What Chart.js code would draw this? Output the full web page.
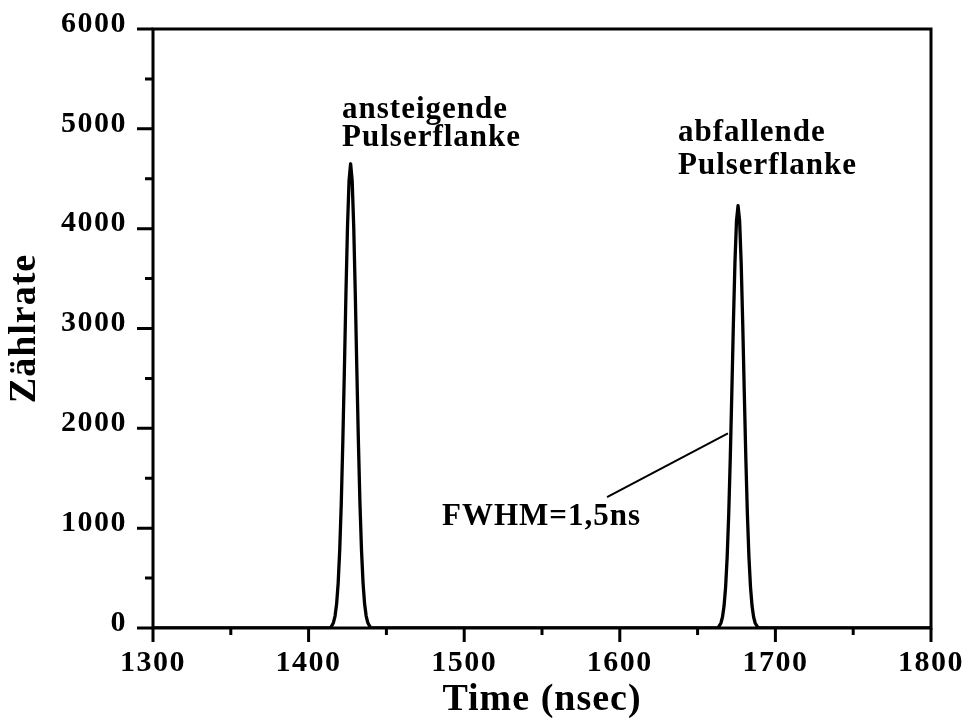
<!DOCTYPE html>
<html><head><meta charset="utf-8">
<script src="https://cdn.jsdelivr.net/npm/chart.js@4.4.1/dist/chart.umd.min.js"></script>
<style>html,body{margin:0;padding:0;background:#fff}#wrap{width:967px;height:720px}</style>
</head><body><div id="wrap"><canvas id="c" width="967" height="720"></canvas></div>
<script>
// ---- data ----
const times = [1300,
  1414,1415,1416,1417,1418,1419,1420,1421,1422,1423,1424,1425,1426,1427,1428,1429,1430,1431,1432,1433,1434,1435,1436,1437,1438,1439,1440,
  1663,1664,1665,1666,1667,1668,1669,1670,1671,1672,1673,1674,1675,1676,1677,1678,1679,1680,1681,1682,1683,1684,1685,1686,1687,1688,1689,
  1800];
const counts = [0,
  0,24,56,120,240,450,780,1250,1870,2590,3350,4020,4480,4650,4480,4020,3350,2590,1870,1250,780,450,240,120,56,24,0,
  0,22,50,110,220,410,710,1140,1700,2360,3050,3660,4080,4230,4080,3660,3050,2360,1700,1140,710,410,220,110,50,22,0,
  0];
const xTickValues = [1300,1400,1500,1600,1700,1800];
const xMinorTicks = [1350,1450,1550,1650,1750];
const yTickValues = [0,1000,2000,3000,4000,5000,6000];
const yMinorTicks = [500,1500,2500,3500,4500,5500];
const xTitle = 'Time (nsec)';
const yTitle = 'Zählrate';
const peakLabel1 = ['ansteigende','Pulserflanke'];
const peakLabel2 = ['abfallende','Pulserflanke'];
const fwhmLabel = 'FWHM=1,5ns';

// ---- annotation placement (data units) ----
const annot = {
  label1: {x:1421.5, y:[5110,4830]},
  label2: {x:1637.4, y:[4880,4550]},
  fwhm:   {x:1485.7, y:1030},
  pointer:{x1:1591.8, y1:1310, x2:1669.5, y2:1950}
};

const FAM = '"Liberation Serif","Times New Roman",serif';

const axisPlugin = {
  id: 'axisBox',
  beforeDraw(chart){ chart.ctx.letterSpacing = '1px'; },
  afterDatasetsDraw(chart){ chart.ctx.letterSpacing = '1.5px'; },
  afterDraw(chart){
    const ctx = chart.ctx, a = chart.chartArea;
    const xs = chart.scales.x, ys = chart.scales.y;
    ctx.save();
    ctx.letterSpacing = '0px';
    ctx.strokeStyle = '#000';
    ctx.lineWidth = 3;
    ctx.lineCap = 'square';
    ctx.strokeRect(a.left, a.top, a.right - a.left, a.bottom - a.top);
    ctx.beginPath();
    xTickValues.forEach(v => { const p = xs.getPixelForValue(v); ctx.moveTo(p, a.bottom); ctx.lineTo(p, a.bottom + 14); });
    xMinorTicks.forEach(v => { const p = xs.getPixelForValue(v); ctx.moveTo(p, a.bottom); ctx.lineTo(p, a.bottom + 7); });
    yTickValues.forEach(v => { const p = ys.getPixelForValue(v); ctx.moveTo(a.left, p); ctx.lineTo(a.left - 16, p); });
    yMinorTicks.forEach(v => { const p = ys.getPixelForValue(v); ctx.moveTo(a.left, p); ctx.lineTo(a.left - 8, p); });
    ctx.lineCap = 'butt';
    ctx.stroke();
    // pointer line
    ctx.lineWidth = 2;
    ctx.beginPath();
    ctx.moveTo(xs.getPixelForValue(annot.pointer.x1), ys.getPixelForValue(annot.pointer.y1));
    ctx.lineTo(xs.getPixelForValue(annot.pointer.x2), ys.getPixelForValue(annot.pointer.y2));
    ctx.stroke();
    // labels
    ctx.letterSpacing = '1px';
    ctx.fillStyle = '#000';
    ctx.font = 'bold 31px ' + FAM;
    ctx.textAlign = 'left';
    ctx.textBaseline = 'alphabetic';
    peakLabel1.forEach((t,i) => ctx.fillText(t, xs.getPixelForValue(annot.label1.x), ys.getPixelForValue(annot.label1.y[i])));
    peakLabel2.forEach((t,i) => ctx.fillText(t, xs.getPixelForValue(annot.label2.x), ys.getPixelForValue(annot.label2.y[i])));
    ctx.fillText(fwhmLabel, xs.getPixelForValue(annot.fwhm.x), ys.getPixelForValue(annot.fwhm.y));
    ctx.restore();
  }
};

const zeroPad = s => { s.paddingTop = 0; s.paddingBottom = 0; s.paddingLeft = 0; s.paddingRight = 0; };

new Chart(document.getElementById('c'), {
  type: 'line',
  data: {
    datasets: [{
      data: times.map((t,i) => ({x:t, y:counts[i]})),
      borderColor: '#000',
      borderWidth: 3.3,
      borderJoinStyle: 'round',
      borderCapStyle: 'round',
      pointRadius: 0,
      fill: false,
      tension: 0
    }]
  },
  options: {
    responsive: false,
    animation: false,
    devicePixelRatio: 1,
    layout: { padding: {top:29, right:36, bottom:0, left:0} },
    plugins: { legend: {display:false}, tooltip: {enabled:false} },
    scales: {
      x: {
        type: 'linear', min: 1300, max: 1800,
        afterBuildTicks: s => { s.ticks = xTickValues.map(v => ({value:v})); },
        afterFit: s => { s.height = 92; zeroPad(s); },
        grid: {display:false, drawTicks:false},
        border: {display:false},
        ticks: {color:'#000', padding:17, maxRotation:0, autoSkip:false, z:1,
                callback: v => String(v),
                font:{family:FAM, size:30, weight:'bold', lineHeight:1.2}},
        title: {display:true, text:xTitle, color:'#000', padding:{top:0,bottom:1},
                font:{family:FAM, size:38, weight:'bold', lineHeight:1}}
      },
      y: {
        type: 'linear', min: 0, max: 6000,
        afterBuildTicks: s => { s.ticks = yTickValues.map(v => ({value:v})); },
        afterFit: s => { s.width = 153; zeroPad(s); },
        grid: {display:false, drawTicks:false},
        border: {display:false},
        ticks: {color:'#000', padding:26, labelOffset:-5, autoSkip:false, z:1,
                callback: v => String(v),
                font:{family:FAM, size:30, weight:'bold', lineHeight:1.2}},
        title: {display:true, text:yTitle, color:'#000', padding:{top:6,bottom:0},
                font:{family:FAM, size:38, weight:'bold', lineHeight:1}}
      }
    }
  },
  plugins: [axisPlugin]
});
</script></body></html>
